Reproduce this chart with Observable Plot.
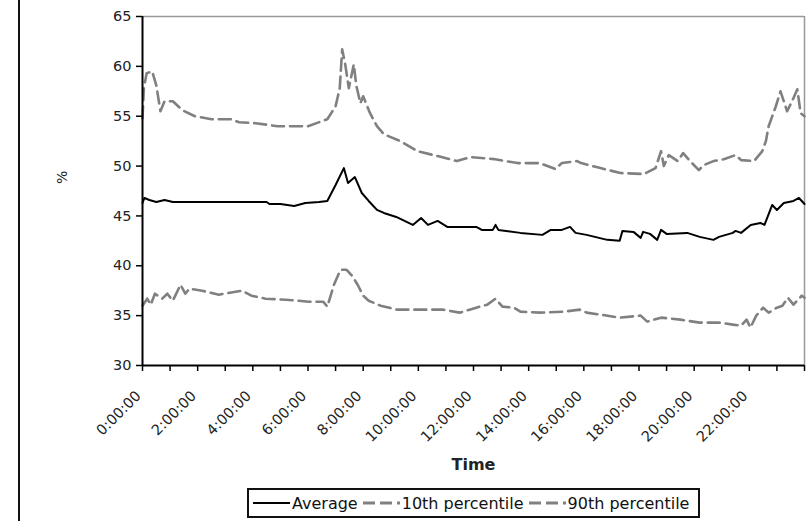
<!DOCTYPE html>
<html><head><meta charset="utf-8">
<script src="https://cdn.jsdelivr.net/npm/d3@7"></script>
<script src="https://cdn.jsdelivr.net/npm/@observablehq/plot@0.6"></script>
<style>
body{margin:0;background:#fff;font-family:"DejaVu Sans",sans-serif;}
#wrap{position:relative;width:811px;height:521px;overflow:hidden;background:#fff;}
#edge{position:absolute;left:18px;top:0;width:2px;height:521px;background:#111;}
#legend{position:absolute;left:247px;top:488px;width:449px;height:26px;border:2px solid #111;display:flex;align-items:center;font-size:16px;color:#111;box-sizing:content-box;white-space:nowrap;}
#legend .item{display:flex;align-items:center;margin-left:5px;}
#legend .item:first-child{margin-left:4px;}
#legend svg{margin-right:2px;}
</style></head>
<body><div id="wrap"><div id="chart"></div><div id="edge"></div><div id="legend"></div></div>
<script>
// ---- data (hours since midnight, percent) ----
const avgTime  = [0.0,0.07,0.25,0.5,0.8,1.1,2.0,3.0,4.0,4.5,4.6,5.0,5.5,5.9,6.4,6.7,7.0,7.3,7.45,7.7,7.95,8.2,8.5,8.75,9.2,9.8,10.1,10.35,10.7,11.05,12.1,12.3,12.7,12.8,12.9,13.7,14.5,14.8,15.2,15.5,15.7,16.1,16.4,16.85,17.3,17.4,17.8,18.06,18.15,18.4,18.66,18.8,19.0,19.75,20.2,20.7,20.9,21.4,21.5,21.7,22.05,22.4,22.55,22.83,23.0,23.25,23.6,23.8,24.0];
const avgValue = [46.3,46.8,46.6,46.4,46.6,46.4,46.4,46.4,46.4,46.4,46.2,46.2,46.0,46.3,46.4,46.5,48.1,49.8,48.3,48.9,47.3,46.5,45.6,45.3,44.9,44.1,44.8,44.1,44.5,43.9,43.9,43.6,43.6,44.1,43.6,43.3,43.1,43.6,43.6,43.9,43.3,43.1,42.9,42.6,42.5,43.5,43.4,42.8,43.4,43.2,42.6,43.6,43.2,43.3,42.9,42.6,42.9,43.3,43.5,43.3,44.1,44.3,44.1,46.1,45.6,46.3,46.5,46.8,46.2];

const p10Time  = [0.0,0.17,0.3,0.45,0.71,0.9,1.1,1.38,1.55,1.7,2.16,2.77,3.6,3.95,4.46,5.18,6.03,6.55,6.7,6.94,7.18,7.4,7.6,7.8,8.0,8.2,8.63,9.23,10.1,10.9,11.5,12.1,12.5,12.8,13.05,13.46,13.7,14.4,15.27,15.85,16.1,16.6,17.3,18.06,18.3,18.8,19.5,20.2,20.9,21.4,21.7,21.9,22.04,22.25,22.5,22.7,23.0,23.2,23.4,23.6,23.9,24.0];
const p10Value = [36.0,36.7,36.1,37.2,36.7,37.2,36.5,38.1,37.2,37.7,37.5,37.1,37.5,37.0,36.7,36.6,36.4,36.4,35.9,38.1,39.6,39.6,39.0,38.1,37.0,36.5,36.0,35.6,35.6,35.6,35.3,35.8,36.1,36.7,35.9,35.8,35.4,35.3,35.4,35.6,35.3,35.1,34.8,35.0,34.4,34.8,34.6,34.3,34.3,34.1,34.0,34.6,33.8,35.0,35.8,35.3,35.8,36.0,36.8,36.1,37.0,36.8];

const p90Time  = [0.0,0.05,0.15,0.35,0.5,0.65,0.8,1.1,1.45,1.9,2.5,3.2,3.5,4.1,4.9,6.0,6.7,7.0,7.15,7.24,7.35,7.48,7.66,7.75,7.9,8.0,8.25,8.5,8.75,9.35,9.96,10.7,11.4,11.9,12.74,13.6,14.4,14.97,15.2,15.76,15.9,16.6,17.33,18.18,18.6,18.8,18.9,19.08,19.4,19.6,19.85,20.17,20.35,20.7,21.1,21.5,21.7,22.17,22.47,22.6,22.7,22.95,23.13,23.37,23.55,23.74,23.86,24.0];
const p90Value = [54.8,57.8,59.3,59.5,58.1,55.5,56.5,56.5,55.6,55.0,54.7,54.7,54.4,54.3,54.0,54.0,54.7,56.0,57.8,61.7,60.2,57.8,60.2,58.1,56.3,57.0,55.3,54.0,53.2,52.5,51.5,51.0,50.5,50.9,50.7,50.3,50.3,49.7,50.3,50.5,50.3,49.8,49.3,49.2,49.8,51.5,50.0,51.1,50.5,51.3,50.5,49.6,50.1,50.5,50.7,51.1,50.6,50.5,51.5,52.5,54.0,55.9,57.5,55.5,56.5,57.7,55.3,55.0];

const seriesNames = ["Average", "10th percentile", "90th percentile"];
const yTicks = [30, 35, 40, 45, 50, 55, 60, 65];
const hourTicks = [0,1,2,3,4,5,6,7,8,9,10,11,12,13,14,15,16,17,18,19,20,21,22,23,24];
const labelHours = [0,2,4,6,8,10,12,14,16,18,20,22];
const xTickLabels = ["0:00:00","2:00:00","4:00:00","6:00:00","8:00:00","10:00:00","12:00:00","14:00:00","16:00:00","18:00:00","20:00:00","22:00:00"];
const yLabel = "%";
const xLabel = "Time";

// ---- build tables ----
const toRows = (ts, vs) => ts.map((t, i) => ({t, v: vs[i]}));
const avg = toRows(avgTime, avgValue);
const p10 = toRows(p10Time, p10Value);
const p90 = toRows(p90Time, p90Value);

const styles = {
  "Average": {stroke: "#000", strokeWidth: 2, dash: null},
  "10th percentile": {stroke: "#808080", strokeWidth: 2.8, dash: "12,5"},
  "90th percentile": {stroke: "#808080", strokeWidth: 2.8, dash: "12,5"}
};

const chart = Plot.plot({
  width: 811, height: 480,
  marginLeft: 142, marginRight: 7, marginTop: 16, marginBottom: 115,
  style: {fontFamily: "'DejaVu Sans', sans-serif", fontSize: "14.5px", color: "#222", background: "#fff", overflow: "visible"},
  x: {domain: [0, 24]},
  y: {domain: [30, 65]},
  marks: [
    Plot.ruleY([65], {stroke: "#999", strokeWidth: 1.5}),
    Plot.ruleX([24], {stroke: "#999", strokeWidth: 1.5}),
    Plot.line(p90, {x: "t", y: "v", stroke: "#808080", strokeWidth: 2.6, strokeDasharray: "12,6"}),
    Plot.line(p10, {x: "t", y: "v", stroke: "#808080", strokeWidth: 2.6, strokeDasharray: "12,6"}),
    Plot.line(avg, {x: "t", y: "v", stroke: "#000", strokeWidth: 2}),
    Plot.axisY({ticks: yTicks, tickSize: 6, tickPadding: 5, label: null, stroke: "#000", strokeWidth: 1.5}),
    Plot.ruleX([0], {stroke: "#000", strokeWidth: 2}),
    Plot.ruleY([30], {stroke: "#000", strokeWidth: 2}),
    Plot.axisX({ticks: hourTicks, tickSize: 6, tickFormat: () => "", label: null, stroke: "#000", strokeWidth: 1.5}),
    Plot.axisX({ticks: labelHours, tickSize: 0, tickPadding: 28, dx: -4, tickRotate: -45, label: null,
      tickFormat: d => xTickLabels[labelHours.indexOf(d)]}),
    Plot.text([yLabel], {frameAnchor: "left", dx: -80, dy: -7, rotate: -90, fontSize: 14}),
    Plot.text([xLabel], {frameAnchor: "bottom", dy: 104, fontSize: 16, fontWeight: "bold"})
  ]
});
document.getElementById("chart").appendChild(chart);

// ---- legend ----
const leg = document.getElementById("legend");
seriesNames.forEach(name => {
  const s = styles[name];
  const item = document.createElement("div");
  item.className = "item";
  item.innerHTML = `<svg width="37" height="10"><line x1="0" y1="5" x2="37" y2="5" stroke="${s.stroke}" stroke-width="${s.strokeWidth}" ${s.dash ? `stroke-dasharray="${s.dash}"` : ""}/></svg><span>${name}</span>`;
  leg.appendChild(item);
});
</script>
</body></html>
